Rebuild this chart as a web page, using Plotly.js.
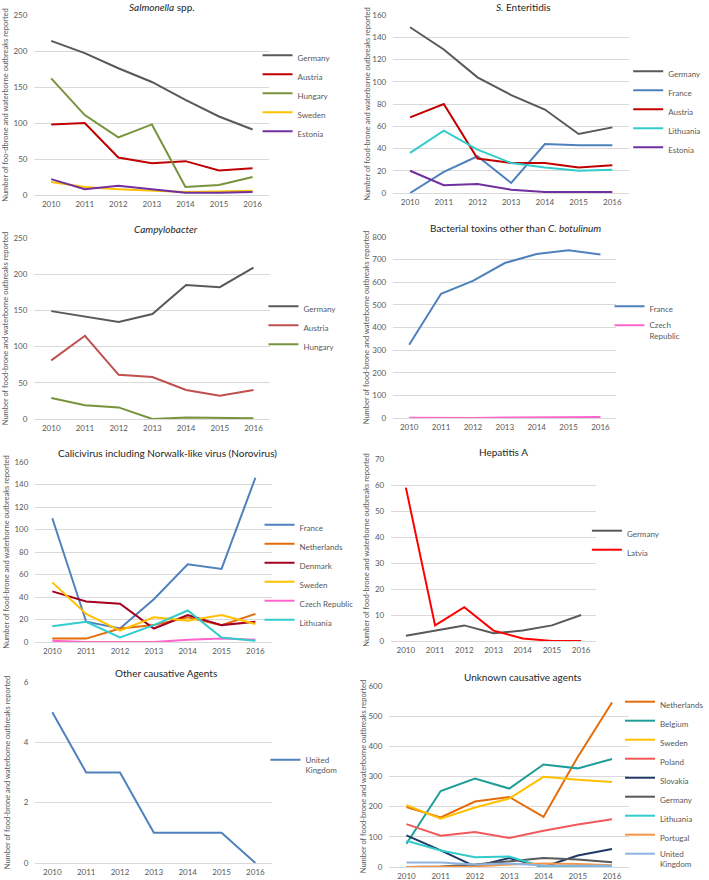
<!DOCTYPE html>
<html><head><meta charset="utf-8">
<script src="https://cdn.plot.ly/plotly-3.0.1.min.js"></script>
<style>html,body{margin:0;padding:0;background:#fff}</style>
</head><body><div id="chart" style="width:709px;height:880px"></div>
<script>
// ---------- DATA ----------
const years = ['2010','2011','2012','2013','2014','2015','2016'];

// Salmonella spp.
const salGermany = [214,197,176,157,132,109,91];
const salAustria = [98,100,52,44,47,34,37];
const salHungary = [162,111,80,98,11,14,25];
const salSweden  = [18,11,8,6,4,5,6];
const salEstonia = [22,8,13,8,3,3,4];

// S. Enteritidis
const entGermany   = [149,129,104,88,75,53,59];
const entFrance    = [0,19,33,9,44,43,43];
const entAustria   = [68,80,31,27,27,23,25];
const entLithuania = [36,56,39,27,23,20,21];
const entEstonia   = [20,7,8,3,1,1,1];

// Campylobacter
const camGermany = [149,142,134,145,185,182,209];
const camAustria = [81,115,61,58,40,32,40];
const camHungary = [29,19,16,0,2,1,1];

// Bacterial toxins other than C. botulinum
const btxFrance = [324,549,606,685,725,741,723];
const btxCzech  = [1,0,0,2,2,4,4];

// Calicivirus including Norwalk-like virus (Norovirus)
const calFrance      = [110,18,12,38,69,65,146];
const calNetherlands = [3,3,12,15,22,15,25];
const calDenmark     = [45,36,34,12,24,15,18];
const calSweden      = [53,25,10,22,19,24,16];
const calCzech       = [1,0,0,0,2,3,2];
const calLithuania   = [14,18,4,15,28,4,1];

// Hepatitis A
const hepGermany = [2,4,6,3,4,6,10];
const hepLatvia  = [59,6,13,4,1,0,0];

// Other causative Agents
const othUK = [5,3,3,1,1,1,0];

// Unknown causative agents
const unkNetherlands = [199,164,217,232,166,365,545];
const unkBelgium     = [77,252,293,260,340,327,358];
const unkSweden      = [205,160,197,227,299,289,282];
const unkPoland      = [142,104,116,96,120,141,158];
const unkSlovakia    = [105,55,2,30,0,38,60];
const unkGermany     = [0,2,8,20,30,25,16];
const unkLithuania   = [87,55,32,35,0,2,2];
const unkPortugal    = [0,0,2,8,12,10,6];
const unkUK          = [15,15,8,12,5,5,4];

// ---------- LAYOUT / STYLE ----------
const W = 709, H = 880;
const FONT = 'Lato, "Open Sans", sans-serif';
const YT = 'Number of food-brone and waterborne outbreaks reported';

const panels = [
  {title:'<i>Salmonella</i> spp.', tx:165, ty:7, box:[35,274,15,195], rng:[0,250], dt:50,
   ytitle:'Number of foo-dbrone and waterborne outbreaks reported', so:3, leg:[300,96],
   series:[['Germany',salGermany,'#595959'],['Austria',salAustria,'#C00000'],['Hungary',salHungary,'#77933C'],
           ['Sweden',salSweden,'#FFC000'],['Estonia',salEstonia,'#7030A0']]},
  {title:'<i>S.</i> Enteritidis', tx:533, ty:7, box:[400,640,15,193], rng:[0,160], dt:20,
   ytitle:YT, so:0, leg:[677,112],
   series:[['Germany',entGermany,'#595959'],['France',entFrance,'#4F81BD'],['Austria',entAustria,'#C00000'],
           ['Lithuania',entLithuania,'#33CCCC'],['Estonia',entEstonia,'#7030A0']]},
  {title:'<i>Campylobacter</i>', tx:169, ty:229, box:[35,275,238,419], rng:[0,250], dt:50,
   ytitle:YT, so:3, leg:[306,328],
   series:[['Germany',camGermany,'#595959'],['Austria',camAustria,'#C0504D'],['Hungary',camHungary,'#77933C']]},
  {title:'Bacterial toxins other than <i>C. botulinum</i>', tx:524, ty:228, box:[400,627,237,418], rng:[0,800], dt:100,
   ytitle:YT, so:1, leg:[658,321],
   series:[['France',btxFrance,'#4F81BD'],['Czech<br>Republic',btxCzech,'#FF66CC']]},
  {title:'Calicivirus including Norwalk-like virus (Norovirus)', tx:170, ty:453, box:[36,277,462,642], rng:[0,160], dt:20,
   ytitle:YT, so:3, leg:[302,575],
   series:[['France',calFrance,'#4F81BD'],['Netherlands',calNetherlands,'#E46C0A'],['Denmark',calDenmark,'#A50021'],
           ['Sweden',calSweden,'#FFC000'],['Czech Republic',calCzech,'#FF66CC'],['Lithuania',calLithuania,'#33CCCC']]},
  {title:'Hepatitis A', tx:512, ty:452, box:[398,606,459,641], rng:[0,70], dt:10,
   ytitle:YT, so:4, leg:[635,543],
   series:[['Germany',hepGermany,'#595959'],['Latvia',hepLatvia,'#FF0000']]},
  {title:'Other causative Agents', tx:169, ty:673, box:[36,277,682,863], rng:[0,6], dt:2,
   ytitle:YT, so:12, leg:[308,765],
   series:[['United<br>Kingdom',othUK,'#4F81BD']]},
  {title:'Unknown causative agents', tx:531, ty:677, box:[396,640,686,867], rng:[0,600], dt:100,
   ytitle:YT, so:0, leg:[669,783],
   series:[['Netherlands',unkNetherlands,'#E46C0A'],['Belgium',unkBelgium,'#1F9E98'],['Sweden',unkSweden,'#FFC000'],
           ['Poland',unkPoland,'#F25A5A'],['Slovakia',unkSlovakia,'#1F3864'],['Germany',unkGermany,'#595959'],
           ['Lithuania',unkLithuania,'#33CCCC'],['Portugal',unkPortugal,'#F79646'],['United<br>Kingdom',unkUK,'#8EB4E3']]}
];

const traces = [];
const layout = {
  width: W, height: H, margin:{l:0,r:0,t:0,b:0},
  paper_bgcolor:'#fff', plot_bgcolor:'#fff',
  font:{family:FONT, color:'#595959'},
  annotations: [], hovermode:false
};

panels.forEach((p, i) => {
  const n = i + 1;
  const sfx = n === 1 ? '' : String(n);
  const [x0, x1, yTop, yBot] = p.box;
  layout['xaxis' + sfx] = {
    domain:[x0 / W, x1 / W], anchor:'y' + sfx, type:'category',
    range:[-0.5, 6.5], showgrid:false, zeroline:false, showline:false,
    ticks:'', ticklabelstandoff:3,
    tickfont:{family:FONT, size:8, color:'#595959'}, fixedrange:true
  };
  layout['yaxis' + sfx] = {
    domain:[1 - yBot / H, 1 - yTop / H], anchor:'x' + sfx,
    range:p.rng, dtick:p.dt, tick0:0, showgrid:true, gridcolor:'#D9D9D9', gridwidth:1,
    zeroline:true, zerolinecolor:'#D9D9D9', zerolinewidth:1, showline:false,
    ticks:'', ticklabelstandoff:6,
    tickfont:{family:FONT, size:8, color:'#595959'},
    title:{text:p.ytitle, standoff:p.so, font:{family:FONT, size:7.5, color:'#595959'}},
    fixedrange:true
  };
  layout['legend' + sfx] = {
    x:(p.leg[0] - 38) / W, y:1 - p.leg[1] / H, xanchor:'left', yanchor:'middle',
    bgcolor:'rgba(0,0,0,0)', borderwidth:0, itemwidth:30, valign:'top',
    font:{family:FONT, size:8, color:'#595959'}, tracegroupgap:0
  };
  layout.annotations.push({
    text:p.title, xref:'paper', yref:'paper', x:p.tx / W, y:1 - p.ty / H,
    xanchor:'center', yanchor:'middle', showarrow:false,
    font:{family:FONT, size:10, color:'#262626'}
  });
  p.series.forEach(([name, vals, color]) => {
    traces.push({
      type:'scatter', mode:'lines', x:years, y:vals, name:name,
      line:{color:color, width:2}, xaxis:'x' + sfx, yaxis:'y' + sfx,
      legend:'legend' + sfx, showlegend:true
    });
  });
});

Plotly.newPlot('chart', traces, layout, {displayModeBar:false, staticPlot:true});
</script>
</body></html>
